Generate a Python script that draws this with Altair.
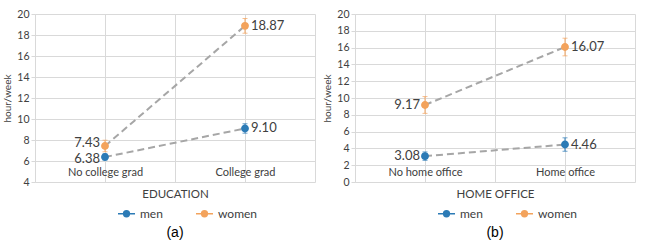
import altair as alt
import pandas as pd

sexes = ["men", "women"]
colors = ["#2C7BB6", "#F3A35C"]
cat_pos = [0.5, 1.5]

edu_cats = ["No college grad", "College grad"]
edu_men = [6.38, 9.10]
edu_women = [7.43, 18.87]
edu_men_err = [0.3, 0.45]
edu_women_err = [0.55, 0.7]

ho_cats = ["No home office", "Home office"]
ho_men = [3.08, 4.46]
ho_women = [9.17, 16.07]
ho_men_err = [0.5, 0.8]
ho_women_err = [1.0, 1.05]

FONT = "Lato"
TXT = "#404040"
GRID = "#d9d9d9"

LEGEND_PATH = ("M-1,0L-0.38,0M0.38,0L1,0"
               "M0.34,0A0.34,0.34,0,1,1,-0.34,0A0.34,0.34,0,1,1,0.34,0Z")


def panel(cats, men, women, men_err, women_err, ymin, xtitle, caption,
          left_dy=(0, 0)):
    rows = []
    for s, vals, errs in [("men", men, men_err), ("women", women, women_err)]:
        for i, (v, e) in enumerate(zip(vals, errs)):
            rows.append(dict(sex=s, pos=cat_pos[i], idx=i, value=v,
                             lo=v - e, hi=v + e, label=f"{v:.2f}"))
    df = pd.DataFrame(rows)
    label_expr = (f"datum.value == 0.5 ? '{cats[0]}' : "
                  f"(datum.value == 1.5 ? '{cats[1]}' : '')")
    xs = alt.Scale(domain=[0, 2], nice=False, zero=False)
    ys = alt.Scale(domain=[ymin, 20], nice=False, zero=False)
    xaxis = alt.Axis(values=[0, 0.5, 1, 1.5, 2], labelExpr=label_expr,
                     grid=True, gridColor=GRID, ticks=False, domain=False,
                     labelPadding=-16, labelFontSize=11,
                     labelFont=FONT, labelColor=TXT,
                     title=xtitle, titleFont=FONT, titleFontSize=11.5,
                     titleFontWeight="normal", titleColor=TXT,
                     titlePadding=6)
    yaxis = alt.Axis(values=list(range(ymin, 21, 2)), title="hour/week",
                     titleFont=FONT, titleFontSize=10,
                     titleFontWeight="normal", titleColor=TXT,
                     titlePadding=4, labelFont=FONT, labelFontSize=10.5,
                     labelColor=TXT, domainColor=GRID, tickColor=GRID,
                     tickSize=4, grid=True, gridColor=GRID)

    def X():
        return alt.X("pos:Q", scale=xs, axis=xaxis)

    def Y(f):
        return alt.Y(f"{f}:Q", scale=ys, axis=yaxis)

    cscale = alt.Scale(domain=sexes, range=colors)
    leg = alt.Legend(orient="none", legendX=82, legendY=190,
                     direction="horizontal", title=None)

    def F():
        return alt.Fill("sex:N", scale=cscale, legend=leg)

    def S():
        return alt.Stroke("sex:N", scale=cscale, legend=leg)

    base = alt.Chart(df)
    line = base.mark_line(color="#a6a6a6", strokeDash=[7, 4], strokeWidth=2).encode(
        x=X(), y=Y("value"), detail="sex:N")
    rule = base.mark_rule(strokeWidth=1).encode(
        x=X(), y=Y("lo"), y2="hi:Q", stroke=S())
    cap_lo = base.mark_tick(orient="horizontal", size=5, thickness=1).encode(
        x=X(), y=Y("lo"), fill=F())
    cap_hi = base.mark_tick(orient="horizontal", size=5, thickness=1).encode(
        x=X(), y=Y("hi"), fill=F())
    pts = base.mark_point(filled=True, size=40, opacity=1, strokeWidth=1.5).encode(
        x=X(), y=Y("value"), fill=F(), stroke=S())
    texts = []
    for s, dy in zip(sexes, left_dy):
        texts.append(base.transform_filter(
            f"datum.idx == 0 && datum.sex == '{s}'").mark_text(
            align="right", dx=-5, dy=dy, font=FONT, fontSize=13, color=TXT).encode(
            x=X(), y=Y("value"), text="label:N"))
    texts.append(base.transform_filter("datum.idx == 1").mark_text(
        align="left", dx=6, font=FONT, fontSize=13, color=TXT).encode(
        x=X(), y=Y("value"), text="label:N"))
    return alt.layer(line, rule, cap_lo, cap_hi, pts, *texts).properties(
        width=280, height=168,
        title=alt.TitleParams(caption, orient="bottom", font="Liberation Sans",
                              fontSize=14, fontWeight="normal", color="#000000",
                              offset=6))


a = panel(edu_cats, edu_men, edu_women, edu_men_err, edu_women_err, 4,
          "EDUCATION", "(a)", left_dy=(2, -3))
b = panel(ho_cats, ho_men, ho_women, ho_men_err, ho_women_err, 0,
          "HOME OFFICE", "(b)")

chart = alt.hconcat(a, b, spacing=7).resolve_scale(
    fill="independent", stroke="independent"
).resolve_legend(
    fill="independent", stroke="independent"
).configure(
    padding={"left": 2, "top": 9, "right": 2, "bottom": 0},
    background="white",
).configure_view(stroke=None).configure_legend(
    labelFont=FONT, labelFontSize=12,
    labelColor=TXT, symbolType=LEGEND_PATH, symbolSize=289,
    symbolStrokeWidth=1.5, columnPadding=30, padding=0,
    symbolOpacity=1,
)

chart.save("out.html", embed_options={"renderer": "svg", "actions": False})
